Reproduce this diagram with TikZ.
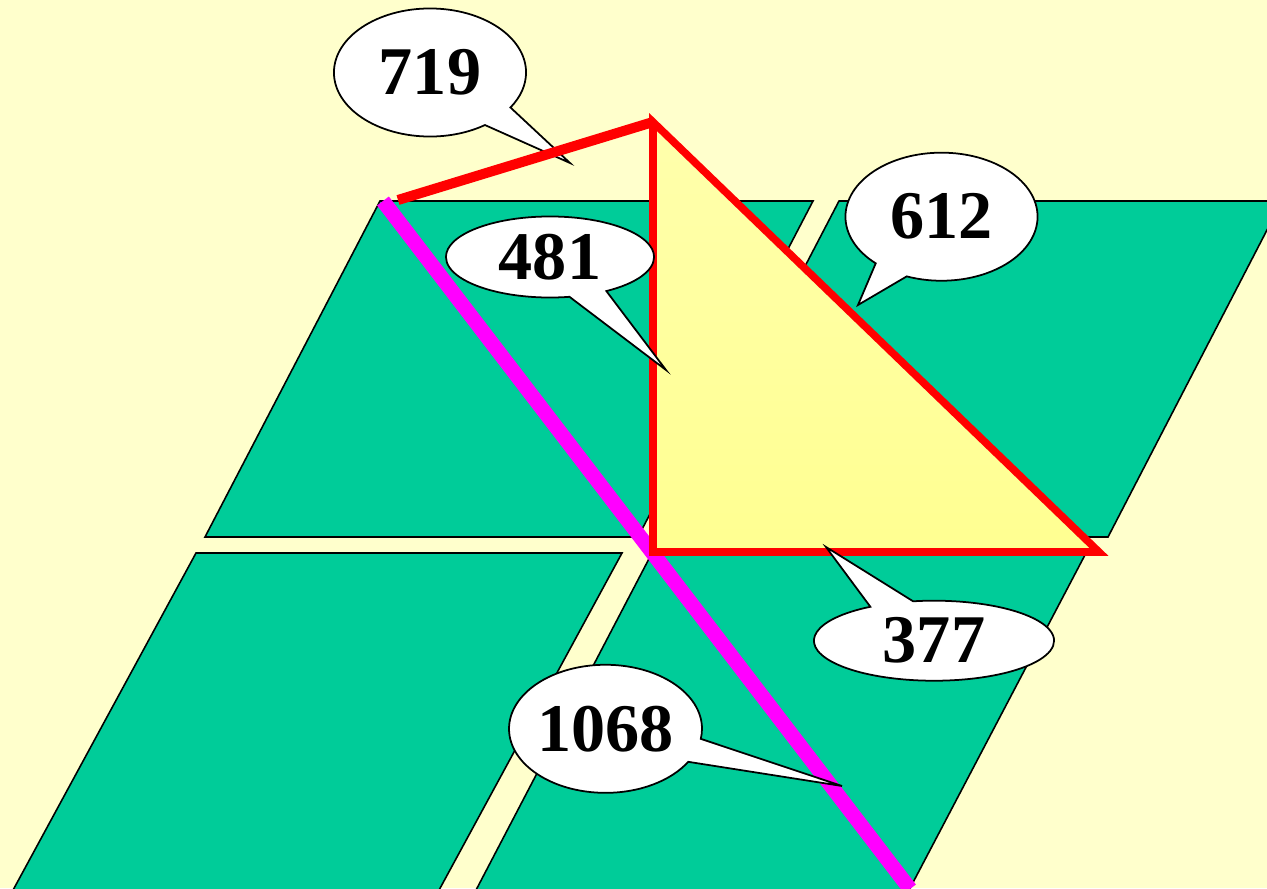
\documentclass[tikz,border=0pt]{standalone}
\usepackage{fontspec}
\setmainfont{Liberation Serif}
\usetikzlibrary{shapes.callouts}
\definecolor{bgyellow}{RGB}{255,255,204}
\definecolor{fieldgreen}{RGB}{0,204,153}
\definecolor{linered}{RGB}{255,0,0}
\definecolor{linemagenta}{RGB}{255,0,255}
\begin{document}
\begin{tikzpicture}[x=0.01cm, y=-0.01cm, line join=miter]
  \tikzset{field/.style={draw=black, line width=0.45pt, fill=fieldgreen},
    bubble/.style={ellipse callout, draw=black, line width=0.5pt, fill=white, inner sep=0pt,
      callout pointer arc=22, font=\fontsize{19.4pt}{20pt}\selectfont\bfseries},
    tri/.style={draw=linered, line width=2.15pt, top color={rgb,255:red,255;green,255;blue,172}, bottom color={rgb,255:red,255;green,255;blue,145}}}
  \fill[bgyellow] (0,0) rectangle (1267,888);
  \path[use as bounding box] (0,0) rectangle (1267,888);
  \clip (0,0) rectangle (1267,888);
  % four fields
  \draw[field] (380,201) -- (813,201) -- (638,537) -- (205,537) -- cycle;
  \draw[field] (839,201) -- (1282,201) -- (1108,537) -- (664,537) -- cycle;
  \draw[field] (196,553) -- (622,553) -- (438,892) -- (12,892) -- cycle;
  \draw[field] (652,553) -- (1086,553) -- (908,892) -- (475,892) -- cycle;
  % points of the triangle and the lines
  \coordinate (apex) at (653,122);
  \coordinate (corner) at (653,552);
  \coordinate (tip) at (1099,552);
  \coordinate (ltop) at (398,200);
  \coordinate (mtop) at (383,201);
  \coordinate (mbot) at (910,889);
  \draw[linemagenta, line width=4.2pt] (mtop) -- (mbot);
  \coordinate (p719) at (570,163);
  \node[bubble, minimum width=1.92cm, minimum height=1.28cm, callout absolute pointer={(p719)}] (c719) at (430,72.5) {719};
  \draw[linered, line width=2.85pt] (ltop) -- (apex);
  \draw[tri] (apex) -- (corner) -- (tip) -- cycle;
  % callouts
  \coordinate (p481) at (666,370);
  \coordinate (p612) at (858,305);
  \coordinate (p377) at (826,547);
  \coordinate (p1068) at (842,786);
  \node[bubble, minimum width=2.08cm, minimum height=0.81cm, callout absolute pointer={(p481)}] (c481) at (550,257) {481};
  \node[bubble, minimum width=1.92cm, minimum height=1.28cm, callout absolute pointer={(p612)}] (c612) at (941.5,216.7) {612};
  \node[bubble, minimum width=2.40cm, minimum height=0.80cm, callout absolute pointer={(p377)}] (c377) at (934,640.7) {377};
  \node[bubble, minimum width=1.91cm, minimum height=1.28cm, callout absolute pointer={(p1068)}] (c1068) at (605.5,728.8) {1068};
\end{tikzpicture}
\end{document}
